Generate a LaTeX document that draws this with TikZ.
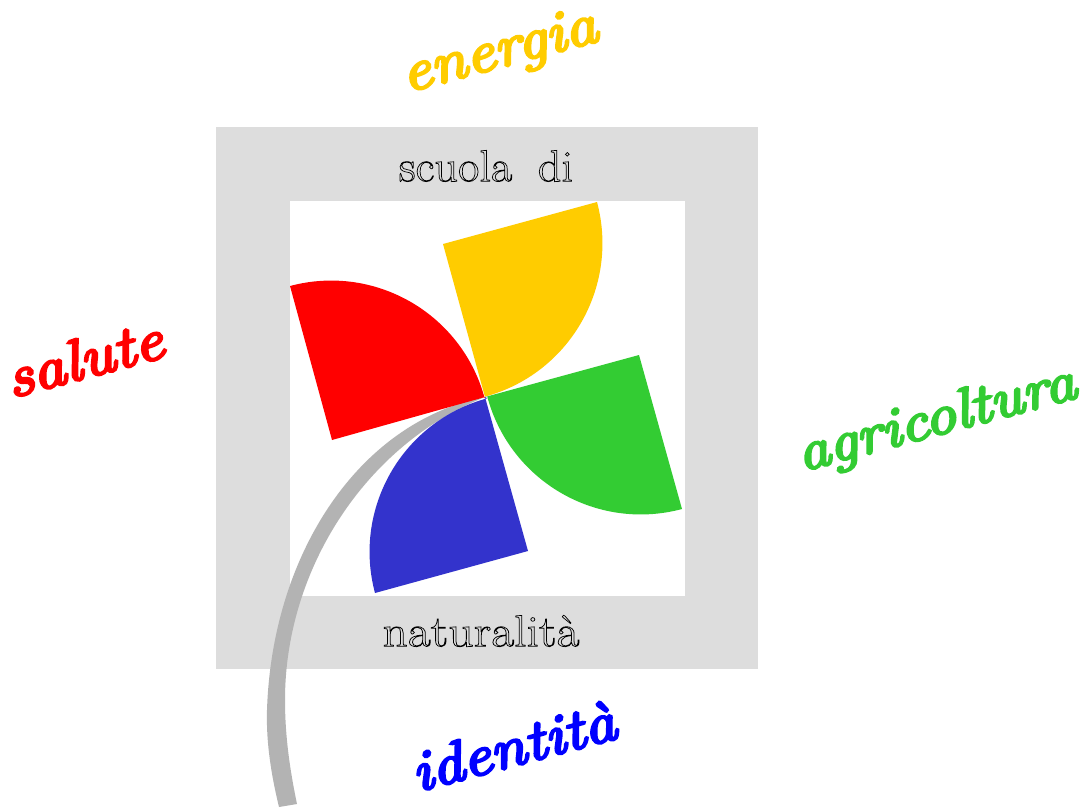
\documentclass[tikz,border=0pt]{standalone}
\usepackage{fontspec}
\setmainfont{Latin Modern Roman}
\newfontfamily\wordfont[FakeBold=5,FakeStretch=1.13]{Latin Modern Roman}
\newcommand{\outl}[1]{\special{pdf:code q 1 Tr 0.7 w}#1\special{pdf:code Q}}
\tikzset{
  word/.style={font=\fontsize{#1}{56}\wordfont\itshape,rotate=15,inner sep=0pt,anchor=center},
  lab/.style={font=\fontsize{44.6}{46}\selectfont,inner sep=0pt,text=black,anchor=center}
}
\definecolor{framegray}{HTML}{DDDDDD}
\definecolor{stemgray}{HTML}{B3B3B3}
\definecolor{pyellow}{HTML}{FFCC00}
\definecolor{pgreen}{HTML}{33CC33}
\definecolor{pblue}{HTML}{3333CC}
\begin{document}
\begin{tikzpicture}[x=1pt,y=-1pt]
\useasboundingbox (0,0) rectangle (1084,807);
\fill[framegray] (216,127) rectangle (758,669);
\fill[white] (290,201) rectangle (685,596);
\fill[stemgray] (485,397) .. controls (358,422) and (272,555) .. (267,710) .. controls (266,745) and (272,778) .. (279,807) -- (297,804) .. controls (291,775) and (285,740) .. (285,700) .. controls (285,570) and (365,445) .. (485,397) -- cycle;
\coordinate (c) at (485,397);
\fill[pyellow] (c) -- (443,244) -- (597,202) arc[start angle=-15,end angle=75,radius=159] -- cycle;
\fill[red] (c) -- (332,440) -- (290,286) arc[start angle=-105,end angle=-15,radius=159] -- cycle;
\fill[pgreen] (c) -- (639,355) -- (682,509) arc[start angle=75,end angle=165,radius=159] -- cycle;
\fill[pblue] (c) -- (528,551) -- (375,593) arc[start angle=165,end angle=255,radius=159] -- cycle;
\node[lab,xscale=1.04] (s) at (486,166) {\outl{scuola\hspace{0.55em}di}};
\node[lab,xscale=1.115] (n) at (481,631) {\outl{naturalità}};
\node[word=58,text=pyellow] (e) at (500,54) {energia};
\node[word=58,text=red] (sa) at (84,358) {salute};
\node[word=56,text=pgreen] (a) at (937,421) {agricoltura};
\node[word=57,text=blue] (i) at (513,746) {identità};
\end{tikzpicture}
\end{document}
